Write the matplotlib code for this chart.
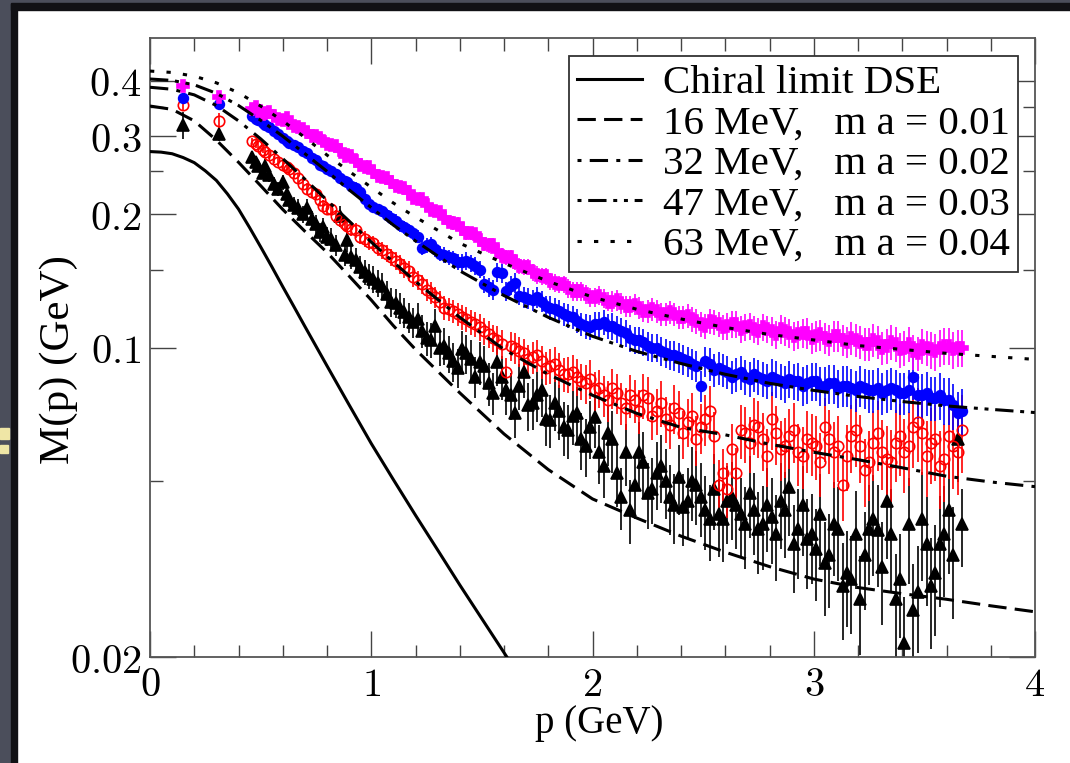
import numpy as np
import matplotlib.pyplot as plt
from matplotlib.patches import Rectangle
from matplotlib.lines import Line2D

plt.rcParams['mathtext.fontset'] = 'cm'
serif = 'Liberation Serif'

# ---- DSE curves ----
p_curve = [0.0, 0.1, 0.2, 0.3, 0.4, 0.5, 0.6, 0.7, 0.8, 0.9, 1.0, 1.1, 1.2,
           1.4, 1.6, 1.8, 2.0, 2.2, 2.4, 2.6, 2.8, 3.0, 3.2, 3.4, 3.6, 3.8, 4.0]
M_63 = [0.421, 0.418, 0.410, 0.396, 0.376, 0.351, 0.325, 0.298, 0.272, 0.250, 0.230, 0.212, 0.197,
        0.172, 0.155, 0.141, 0.130, 0.122, 0.116, 0.111, 0.107, 0.104, 0.101, 0.099, 0.097, 0.0955, 0.094]
M_47 = [0.404, 0.401, 0.392, 0.375, 0.352, 0.326, 0.300, 0.274, 0.250, 0.227, 0.207, 0.189, 0.174,
        0.149, 0.131, 0.117, 0.106, 0.098, 0.092, 0.087, 0.083, 0.080, 0.0775, 0.0755, 0.0738, 0.0725, 0.0713]
M_32 = [0.387, 0.383, 0.372, 0.352, 0.325, 0.296, 0.267, 0.240, 0.215, 0.193, 0.173, 0.156, 0.141,
        0.117, 0.099, 0.087, 0.078, 0.071, 0.066, 0.0635, 0.0605, 0.058, 0.0558, 0.0535, 0.0512, 0.0497, 0.0485]
M_16 = [0.351, 0.345, 0.325, 0.294, 0.262, 0.232, 0.205, 0.183, 0.164, 0.145, 0.128, 0.112, 0.099,
        0.079, 0.0638, 0.053, 0.0455, 0.0412, 0.0375, 0.0345, 0.032, 0.030, 0.0287, 0.0278, 0.027, 0.0261, 0.0253]
p_chiral = [0.0, 0.05, 0.1, 0.15, 0.2, 0.25, 0.3, 0.35, 0.4, 0.45, 0.5, 0.55, 0.6, 0.65, 0.7,
            0.8, 0.9, 1.0, 1.1, 1.2, 1.3, 1.4, 1.5, 1.613]
M_chiral = [0.277, 0.2762, 0.2739, 0.2685, 0.2615, 0.2506, 0.2384, 0.2223, 0.2054, 0.1866, 0.1688,
            0.1524, 0.1372, 0.1238, 0.1116, 0.0909, 0.0742, 0.0607, 0.0503, 0.0418, 0.0349,
            0.0291, 0.0244, 0.020]

# ---- lattice data: first momentum set ----
p_lat = [0.15, 0.31, 0.46, 0.49, 0.52, 0.56, 0.60, 0.63, 0.67, 0.71, 0.75, 0.78,
         0.82, 0.86, 0.89, 0.93, 0.97, 1.01, 1.05, 1.09, 1.13, 1.17, 1.21, 1.25,
         1.29, 1.33, 1.37, 1.41, 1.45, 1.49, 1.53, 1.57, 1.61, 1.65, 1.69, 1.73,
         1.77, 1.81, 1.85, 1.89, 1.93, 1.97, 2.01, 2.05, 2.09, 2.13, 2.17, 2.21,
         2.25, 2.29, 2.33, 2.37, 2.41, 2.45, 2.49, 2.53, 2.57, 2.61, 2.65, 2.69,
         2.73, 2.77, 2.81, 2.85, 2.89, 2.93, 2.97, 3.01, 3.05, 3.09, 3.13, 3.17,
         3.21, 3.25, 3.29, 3.33, 3.37, 3.41, 3.45, 3.49, 3.53, 3.57, 3.61, 3.65]

M_mag = [0.389, 0.368, 0.346, 0.342, 0.338, 0.333, 0.326, 0.322, 0.314, 0.306, 0.300, 0.293,
         0.287, 0.279, 0.272, 0.264, 0.255, 0.249, 0.243, 0.237, 0.230, 0.224, 0.217, 0.210,
         0.203, 0.196, 0.191, 0.185, 0.181, 0.175, 0.170, 0.165, 0.160, 0.156, 0.152, 0.148,
         0.145, 0.141, 0.139, 0.136, 0.134, 0.132, 0.130, 0.129, 0.127, 0.126, 0.124, 0.123,
         0.121, 0.121, 0.119, 0.119, 0.117, 0.116, 0.113, 0.115, 0.113, 0.112, 0.113, 0.111,
         0.110, 0.111, 0.109, 0.110, 0.108, 0.107, 0.108, 0.106, 0.105, 0.106, 0.104, 0.105,
         0.103, 0.102, 0.103, 0.101, 0.102, 0.100, 0.098, 0.101, 0.099, 0.100, 0.101, 0.100]
M_blue = [0.366, 0.355, 0.333, 0.327, 0.318, 0.309, 0.297, 0.290, 0.284, 0.275, 0.265, 0.257,
          0.250, 0.242, 0.236, 0.229, 0.216, 0.208, 0.203, 0.196, 0.189, 0.184, 0.178, 0.170,
          0.167, 0.162, 0.159, 0.156, 0.155, 0.150, 0.137, 0.148, 0.134, 0.140, 0.130, 0.128,
          0.127, 0.123, 0.121, 0.118, 0.115, 0.112, 0.113, 0.114, 0.112, 0.109, 0.105, 0.104,
          0.101, 0.100, 0.097, 0.096, 0.094, 0.092, 0.082, 0.092, 0.090, 0.088, 0.087, 0.086,
          0.087, 0.085, 0.086, 0.084, 0.085, 0.084, 0.083, 0.084, 0.082, 0.083, 0.082, 0.081,
          0.082, 0.080, 0.081, 0.080, 0.080, 0.079, 0.086, 0.078, 0.077, 0.078, 0.076, 0.071]
M_red = [0.353, 0.325, 0.292, 0.285, 0.277, 0.266, 0.258, 0.253, 0.241, 0.228, 0.222, 0.209,
         0.205, 0.194, 0.188, 0.184, 0.176, 0.172, 0.166, 0.160, 0.154, 0.149, 0.142, 0.135,
         0.130, 0.123, 0.121, 0.117, 0.114, 0.111, 0.107, 0.104, 0.088, 0.100, 0.097, 0.095,
         0.093, 0.091, 0.089, 0.087, 0.086, 0.083, 0.080, 0.078, 0.081, 0.075, 0.078, 0.072,
         0.077, 0.072, 0.069, 0.073, 0.064, 0.070, 0.066, 0.072, 0.049, 0.048, 0.052, 0.064,
         0.067, 0.062, 0.069, 0.059, 0.063, 0.058, 0.062, 0.060, 0.066, 0.058, 0.049, 0.063,
         0.060, 0.055, 0.064, 0.056, 0.061, 0.058, 0.066, 0.064, 0.061, 0.054, 0.063, 0.058]
M_blk = [0.318, 0.303, 0.269, 0.257, 0.257, 0.234, 0.236, 0.215, 0.207, 0.207, 0.190, 0.187,
         0.176, 0.198, 0.175, 0.158, 0.148, 0.143, 0.138, 0.127, 0.123, 0.117, 0.116, 0.105,
         0.112, 0.101, 0.093, 0.099, 0.094, 0.0925, 0.083, 0.0925, 0.080, 0.071, 0.088, 0.075,
         0.080, 0.0687, 0.072, 0.065, 0.071, 0.060, 0.0697, 0.054, 0.062, 0.046, 0.043, 0.058,
         0.047, 0.052, 0.050, 0.044, 0.0437, 0.050, 0.046, 0.041, 0.042, 0.045, 0.044, 0.040,
         0.043, 0.040, 0.0415, 0.045, 0.0485, 0.039, 0.037, 0.035, 0.0326, 0.040, 0.029, 0.030,
         0.027, 0.039, 0.0388, 0.045, 0.027, 0.0215, 0.0255, 0.041, 0.029, 0.036, 0.043, 0.062]

# ---- second momentum set (other lattice directions) ----
p_lat2 = [0.48, 0.51, 0.54, 0.58, 0.62, 0.65, 0.69, 0.73, 0.77, 0.80,
          0.84, 0.88, 0.91, 0.95, 0.99, 1.03, 1.07, 1.11, 1.15, 1.19,
          1.23, 1.27, 1.31, 1.35, 1.39, 1.43, 1.47, 1.51, 1.55, 1.59,
          1.63, 1.67, 1.71, 1.75, 1.79, 1.83, 1.87, 1.91, 1.95, 1.99,
          2.03, 2.07, 2.11, 2.15, 2.19, 2.23, 2.27, 2.31, 2.35, 2.39,
          2.43, 2.47, 2.51, 2.55, 2.59, 2.63, 2.67, 2.71, 2.75, 2.79,
          2.83, 2.87, 2.91, 2.95, 2.99, 3.03, 3.07, 3.11, 3.15, 3.19,
          3.23, 3.27, 3.31, 3.35, 3.39, 3.43, 3.47, 3.51, 3.55, 3.59,
          3.63, 3.67]
M_mag2 = [0.350, 0.336, 0.340, 0.328, 0.330, 0.316, 0.312, 0.300, 0.298, 0.288,
          0.285, 0.271, 0.270, 0.258, 0.256, 0.244, 0.242, 0.231, 0.229, 0.218,
          0.216, 0.204, 0.202, 0.192, 0.190, 0.181, 0.180, 0.171, 0.170, 0.161,
          0.160, 0.153, 0.152, 0.146, 0.145, 0.140, 0.139, 0.134, 0.134, 0.130,
          0.131, 0.127, 0.128, 0.124, 0.125, 0.121, 0.122, 0.119, 0.120, 0.117,
          0.118, 0.115, 0.112, 0.114, 0.111, 0.113, 0.110, 0.112, 0.109, 0.110,
          0.107, 0.109, 0.106, 0.108, 0.105, 0.107, 0.104, 0.106, 0.103, 0.104,
          0.102, 0.104, 0.100, 0.103, 0.099, 0.102, 0.097, 0.100, 0.098, 0.101,
          0.099, 0.100]
M_blue2 = [0.328, 0.322, 0.315, 0.303, 0.292, 0.286, 0.278, 0.268, 0.258, 0.253,
           0.246, 0.238, 0.231, 0.224, 0.211, 0.205, 0.199, 0.193, 0.187, 0.181,
           0.168, 0.171, 0.163, 0.160, 0.156, 0.157, 0.153, 0.139, 0.135, 0.147,
           0.138, 0.131, 0.129, 0.130, 0.124, 0.122, 0.119, 0.117, 0.113, 0.111,
           0.113, 0.112, 0.110, 0.108, 0.104, 0.103, 0.100, 0.098, 0.096, 0.095,
           0.093, 0.091, 0.093, 0.089, 0.089, 0.086, 0.088, 0.085, 0.086, 0.084,
           0.085, 0.083, 0.084, 0.082, 0.084, 0.082, 0.083, 0.081, 0.082, 0.080,
           0.081, 0.080, 0.079, 0.081, 0.079, 0.080, 0.078, 0.079, 0.077, 0.076,
           0.074, 0.072]
M_red2 = [0.288, 0.280, 0.272, 0.262, 0.255, 0.248, 0.234, 0.225, 0.215, 0.206,
          0.198, 0.190, 0.185, 0.178, 0.173, 0.168, 0.163, 0.157, 0.151, 0.144,
          0.139, 0.133, 0.127, 0.122, 0.119, 0.116, 0.113, 0.109, 0.105, 0.102,
          0.101, 0.098, 0.094, 0.096, 0.090, 0.092, 0.087, 0.088, 0.084, 0.085,
          0.081, 0.076, 0.079, 0.073, 0.076, 0.078, 0.070, 0.075, 0.067, 0.071,
          0.068, 0.062, 0.069, 0.063, 0.052, 0.059, 0.065, 0.061, 0.066, 0.057,
          0.064, 0.060, 0.065, 0.057, 0.061, 0.055, 0.062, 0.060, 0.057, 0.065,
          0.053, 0.061, 0.058, 0.055, 0.063, 0.060, 0.068, 0.057, 0.062, 0.056,
          0.060, 0.065]
M_blk2 = [0.262, 0.248, 0.245, 0.228, 0.222, 0.210, 0.200, 0.195, 0.182, 0.178,
          0.170, 0.162, 0.160, 0.152, 0.145, 0.140, 0.132, 0.126, 0.120, 0.114,
          0.109, 0.104, 0.100, 0.097, 0.090, 0.097, 0.086, 0.091, 0.079, 0.086,
          0.078, 0.082, 0.074, 0.078, 0.069, 0.075, 0.066, 0.070, 0.062, 0.066,
          0.058, 0.064, 0.052, 0.058, 0.049, 0.055, 0.048, 0.054, 0.046, 0.051,
          0.045, 0.049, 0.043, 0.048, 0.041, 0.046, 0.042, 0.047, 0.039, 0.044,
          0.038, 0.043, 0.036, 0.044, 0.038, 0.042, 0.034, 0.039, 0.031, 0.038,
          0.034, 0.041, 0.032, 0.038, 0.030, 0.040, 0.028, 0.036, 0.031, 0.038,
          0.034, 0.040]

# relative errors in percent (first set; second set uses E[2:])
E_mag = [2, 2, 1.5, 1.5, 1.5, 1.5, 1.5, 1.5, 2, 2, 2, 2,
         2, 2, 2, 2, 2.5, 2.5, 2.5, 2.5, 3, 3, 3, 3,
         3, 3, 3.5, 3.5, 3.5, 3.5, 4, 4, 4, 4, 4, 4.5,
         4.5, 4.5, 4.5, 5, 5, 5, 5, 5, 5.5, 5.5, 5.5, 5.5,
         6, 6, 6, 6, 6, 6.5, 6.5, 6.5, 6.5, 7, 7, 7,
         7, 7, 7.5, 7.5, 7.5, 7.5, 8, 8, 8, 8, 8, 8.5,
         8.5, 8.5, 8.5, 9, 9, 9, 9, 9, 9.5, 9.5, 9.5, 9.5]
E_blue = [2, 2, 1.5, 1.5, 1.5, 1.5, 2, 2, 2, 2, 2.5, 2.5,
          2.5, 2.5, 3, 3, 3, 3, 3, 3.5, 3.5, 3.5, 3.5, 4,
          4, 4, 4, 4.5, 4.5, 4.5, 5, 5, 5, 5, 5.5, 5.5,
          5.5, 6, 6, 6, 6, 6.5, 6.5, 6.5, 7, 7, 7, 7,
          7.5, 7.5, 7.5, 8, 8, 8, 8, 8.5, 8.5, 8.5, 9, 9,
          9, 9, 9.5, 9.5, 9.5, 10, 10, 10, 10, 10, 10.5, 10.5,
          10.5, 11, 11, 11, 11, 11, 11.5, 11.5, 11.5, 12, 12, 12]
E_red = [3, 4, 2, 2, 2, 2, 2.5, 2.5, 2.5, 3, 3, 3,
         3, 3.5, 3.5, 4, 4, 4, 4.5, 4.5, 5, 5, 5, 5.5,
         5.5, 6, 6, 6.5, 6.5, 7, 7, 7.5, 7.5, 8, 8, 8.5,
         8.5, 9, 9, 9.5, 9.5, 10, 10, 10.5, 10.5, 11, 11, 11.5,
         11.5, 12, 12, 12.5, 12.5, 13, 13, 13.5, 13.5, 14, 14, 14.5,
         14.5, 15, 15, 15.5, 15.5, 16, 16, 16.5, 16.5, 17, 17, 17.5,
         17.5, 18, 18, 18.5, 18.5, 19, 19, 19.5, 19.5, 20, 20, 20]
E_blk = [7, 3.5, 3, 3, 3.5, 3.5, 4, 4, 4.5, 4.5, 5, 5,
         5.5, 5.5, 6, 6, 6.5, 7, 7, 7.5, 8, 8, 8.5, 9,
         9, 9.5, 10, 10, 10.5, 11, 11, 11.5, 12, 12, 12.5, 13,
         13, 13.5, 14, 14, 14.5, 15, 15, 15.5, 16, 16, 16.5, 17,
         17, 17.5, 18, 18, 18.5, 19, 19, 19.5, 20, 20, 20.5, 21,
         21, 21.5, 22, 22, 22.5, 23, 23, 23.5, 24, 24, 24.5, 25,
         25, 25.5, 26, 26, 26.5, 27, 27, 27.5, 28, 28, 28.5, 20]

W, H = 1070.0, 763.0
fig = plt.figure(figsize=(W / 100, H / 100), dpi=100)
fig.patch.set_facecolor('white')

# slide border (dark background + black frame)
fig.patches.append(Rectangle((0, 0), 11 / W, 1, transform=fig.transFigure, color='#4b4e5b', zorder=0))
fig.patches.append(Rectangle((11 / W, 0), 6 / W, 1 - 3 / H, transform=fig.transFigure, color='#111115', zorder=0))
fig.patches.append(Rectangle((0, 1 - 3 / H), 1, 3 / H, transform=fig.transFigure, color='#4b4e5b', zorder=0))
fig.patches.append(Rectangle((11 / W, 1 - 10 / H), 1, 7 / H, transform=fig.transFigure, color='#111115', zorder=0))
# bit of yellow slide text peeking in at the left edge
fig.patches.append(Rectangle((0, 1 - 439 / H), 9 / W, 11 / H, transform=fig.transFigure, color='#efe6a6', zorder=1))
fig.patches.append(Rectangle((0, 1 - 453 / H), 8 / W, 8 / H, transform=fig.transFigure, color='#efe6a6', zorder=1))

ax = fig.add_axes([150 / W, 1 - 657 / H, 885 / W, 619 / H])

series = [
    (M_blk, M_blk2, E_blk, 'black', '^', 'black', 8),
    (M_red, M_red2, E_red, 'red', 'o', 'none', 7.5),
    (M_blue, M_blue2, E_blue, 'blue', 'o', 'blue', 7),
    (M_mag, M_mag2, E_mag, 'magenta', 'P', 'magenta', 8),
]
for M1, M2, E, col, mk, fc, ms in series:
    for pp, MM, EE in ((p_lat, M1, E), (p_lat2, M2, E[2:])):
        MM = np.array(MM)
        err = MM * np.array(EE) / 100.0
        ax.errorbar(pp, MM, yerr=err, fmt=mk, color=col, mfc=fc, mec=col,
                    ms=ms, mew=1.2, elinewidth=1.2, capsize=0, zorder=2)

lw = 2.2
st_16 = (6, 2.7)
st_32 = (6, 2.7, 1.3, 2.7)
st_47 = (6, 2.2, 1.3, 2.2, 1.3, 2.2)
st_63 = (1.4, 4)
ax.plot(p_chiral, M_chiral, color='black', lw=lw, ls='-', zorder=3)
ax.plot(p_curve, M_16, color='black', lw=lw, dashes=st_16, zorder=3)
ax.plot(p_curve, M_32, color='black', lw=lw, dashes=st_32, zorder=3)
ax.plot(p_curve, M_47, color='black', lw=lw, dashes=st_47, zorder=3)
ax.plot(p_curve, M_63, color='black', lw=lw, dashes=st_63, zorder=3)

ax.set_yscale('log')
ax.set_xlim(0, 4)
ax.set_ylim(0.02, 0.5)

ax.set_xticks([0, 1, 2, 3, 4])
ax.set_xticklabels(['$0$', '$1$', '$2$', '$3$', '$4$'])
ax.set_xticks(np.arange(0.2, 4.0, 0.2), minor=True)
ax.set_yticks([0.02, 0.1, 0.2, 0.3, 0.4])
ax.set_yticklabels(['$0.02$', '$0.1$', '$0.2$', '$0.3$', '$0.4$'])
ax.set_yticks([0.05, 0.15, 0.25, 0.35], minor=True)
ax.yaxis.set_minor_formatter(plt.NullFormatter())

ax.tick_params(which='both', direction='in', top=True, right=True,
               color='#444444', width=1.0)
ax.tick_params(which='major', length=19, labelsize=29, pad=6)
ax.tick_params(which='minor', length=9)
for s in ax.spines.values():
    s.set_color('#555555')
    s.set_linewidth(1.3)

ax.set_xlabel('p (GeV)', fontsize=28, family=serif)
ax.set_ylabel('M(p) (GeV)', fontsize=31, family=serif)
ax.xaxis.set_label_coords(0.508, -0.078)
ax.yaxis.set_label_coords(-0.081, 0.48)

handles = [
    Line2D([], [], color='black', lw=lw, ls='-'),
    Line2D([], [], color='black', lw=lw, dashes=st_16),
    Line2D([], [], color='black', lw=lw, dashes=(1.3, 2.7, 6, 2.7)),
    Line2D([], [], color='black', lw=lw, dashes=(1.3, 2.2, 6, 2.2, 1.3, 2.2)),
    Line2D([], [], color='black', lw=lw, dashes=st_63),
]
labels = ['Chiral limit DSE',
          '16 MeV,   m a = 0.01',
          '32 MeV,   m a = 0.02',
          '47 MeV,   m a = 0.03',
          '63 MeV,   m a = 0.04']
leg = ax.legend(handles, labels, loc='upper right',
                bbox_to_anchor=(1018 / W, 1 - 56 / H), bbox_transform=fig.transFigure,
                prop={'family': serif, 'size': 29.5}, frameon=True, fancybox=False,
                framealpha=1, edgecolor='#333333', borderaxespad=0,
                labelspacing=0.07, handlelength=1.6, handletextpad=0.5,
                borderpad=0.2)
leg.get_frame().set_linewidth(1.3)

fig.savefig('out.png', dpi=100, facecolor=fig.get_facecolor())
